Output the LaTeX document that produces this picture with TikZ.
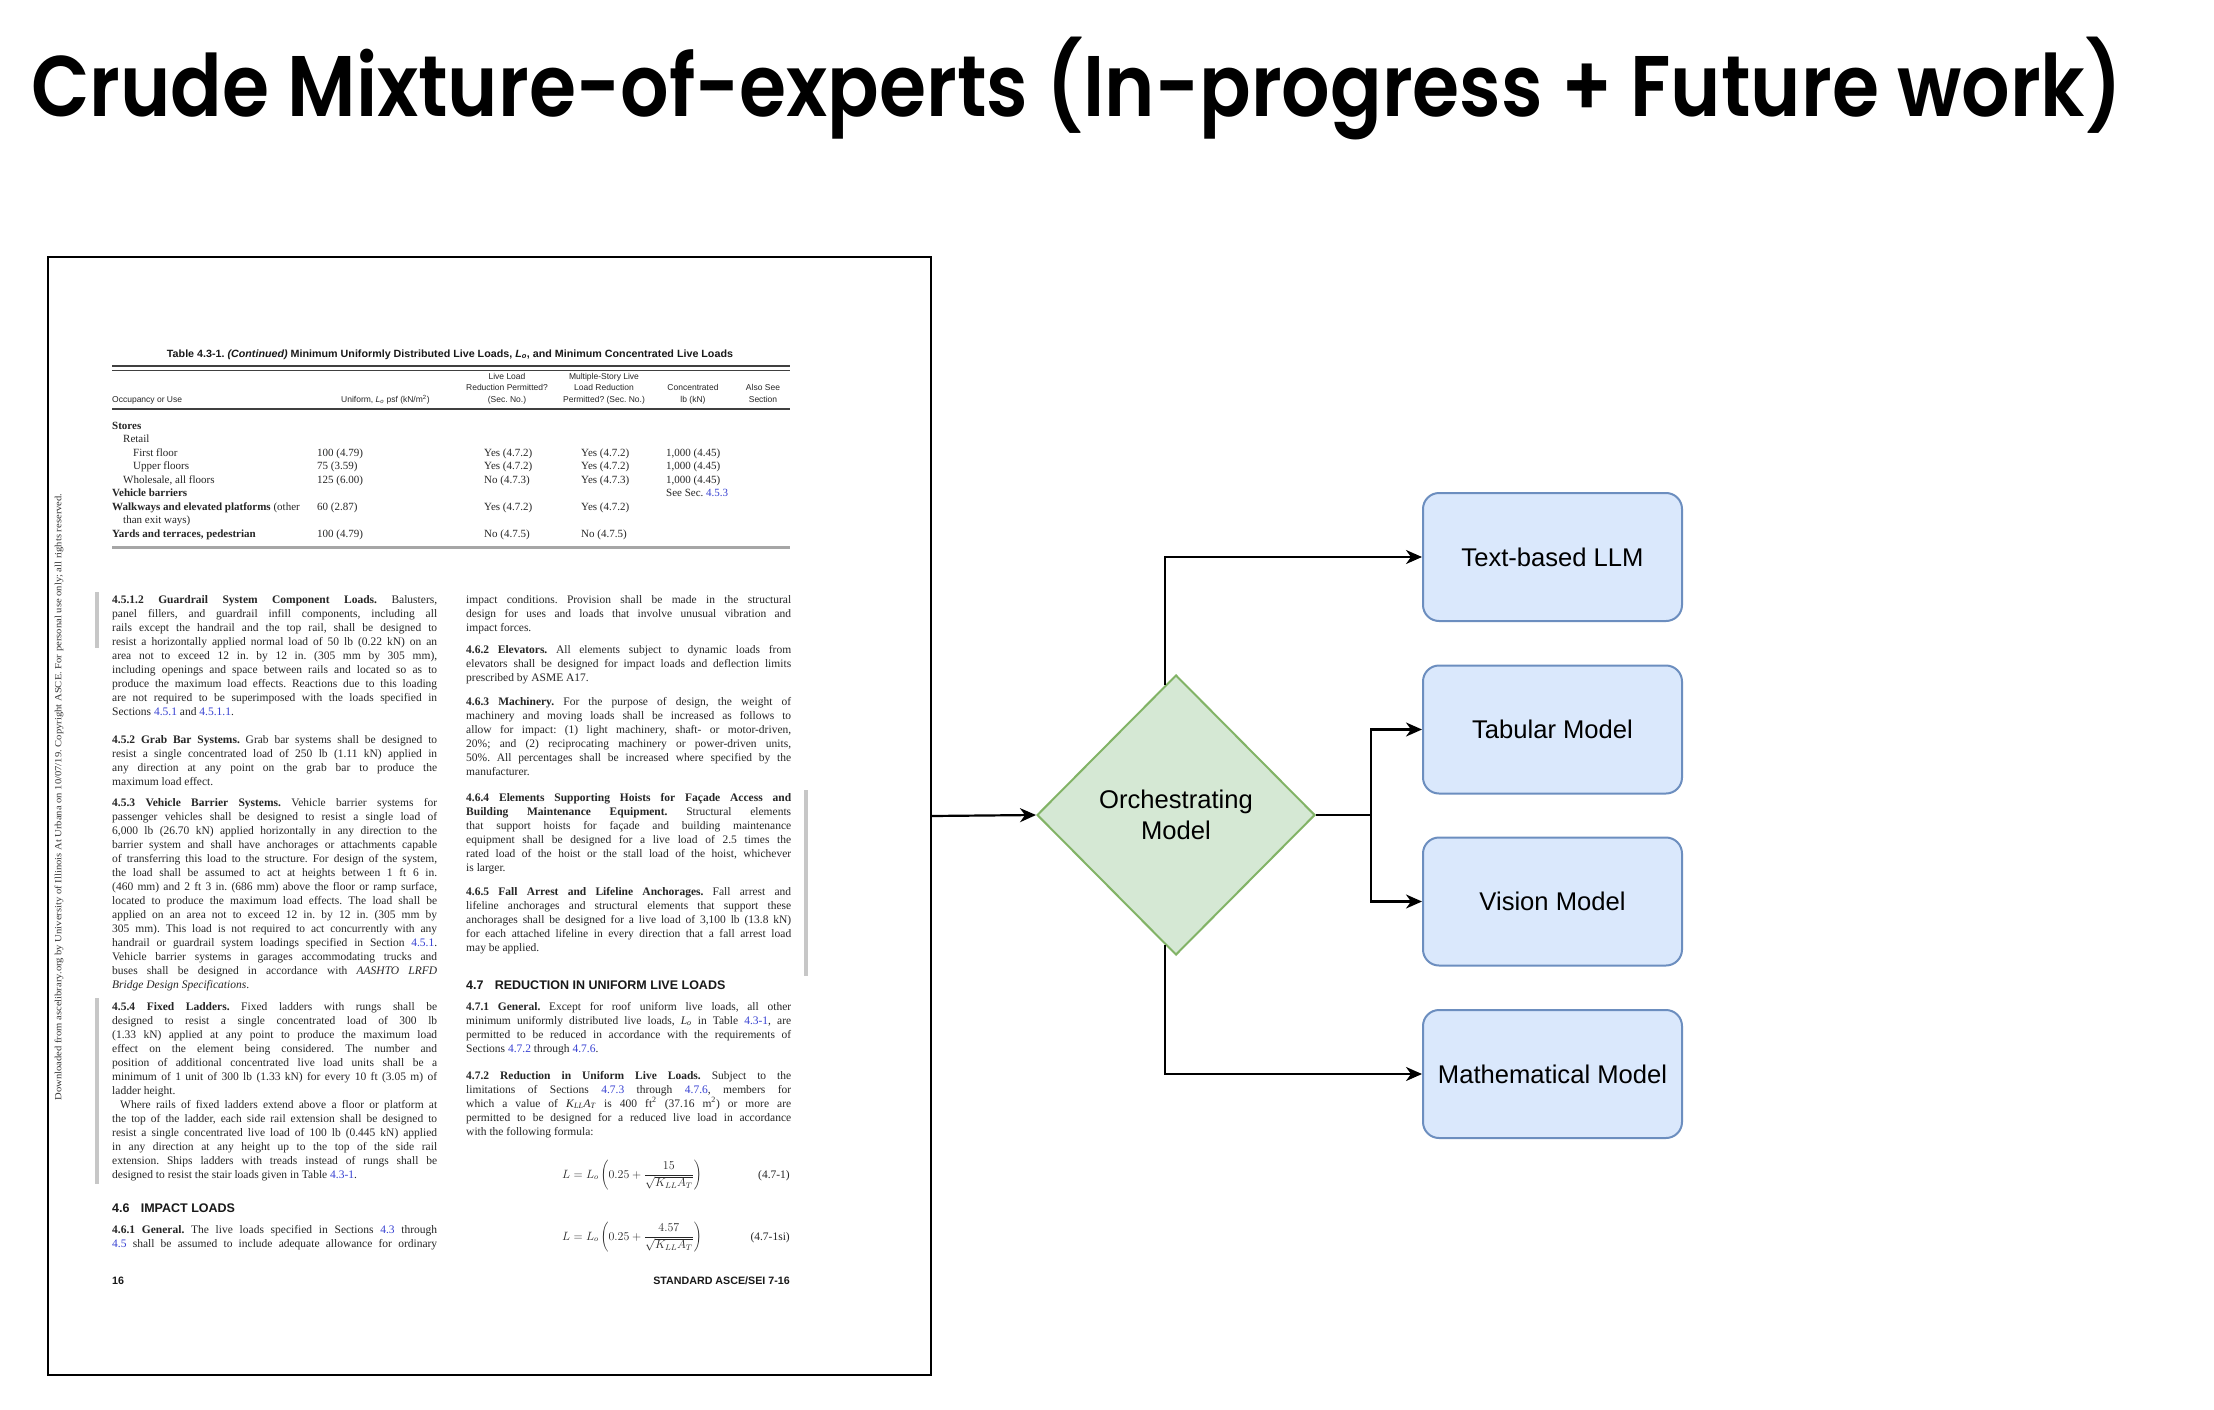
\documentclass[tikz,border=0pt]{standalone}
\usepackage{fontspec}
\usepackage{graphicx}
\usetikzlibrary{shapes.geometric,arrows.meta,calc}
\setmainfont{Liberation Serif}
\newfontfamily\sansf{Liberation Sans}
\newfontfamily\titlef{Poppins}[BoldFont={Poppins SemiBold}]
\definecolor{lkblue}{RGB}{55,65,210}
\definecolor{bfill}{HTML}{DAE8FC}
\definecolor{bline}{HTML}{6C8EBF}
\definecolor{gfill}{HTML}{D5E8D4}
\definecolor{gline}{HTML}{82B366}
\newlength\colw \setlength\colw{325pt}
\newcommand\jline[1]{\hbox to\colw{#1}}
\newcommand\eline[1]{\hbox{#1}}
\newcommand\rline[1]{\hbox{#1}}
\newcommand\lk[1]{\textcolor{lkblue}{#1}}
\newcommand\myLo{\textit{L}\textsubscript{\textit{o}}}
\newcommand\myKA{\textit{K}\textsubscript{\textit{LL}}\textit{A}\textsubscript{\textit{T}}}
\tikzset{
 bodytxt/.style={font=\frenchspacing\fontsize{11.5}{14.05}\selectfont, text=black!85, inner sep=0pt, anchor=base west},
 tbltxt/.style={font=\frenchspacing\fontsize{11}{13.5}\selectfont, text=black!85, inner sep=0pt, anchor=base west},
 hdrtxt/.style={font=\sansf\fontsize{8.5}{11.3}\selectfont, text=black!85, inner sep=0pt, anchor=base},
 headtxt/.style={font=\sansf\bfseries\fontsize{12.5}{15}\selectfont, text=black!90, inner sep=0pt, anchor=base west},
 foottxt/.style={font=\sansf\bfseries\fontsize{10.7}{13}\selectfont, text=black!90, inner sep=0pt},
 chbar/.style={draw=black!22, line width=3.5pt},
 model/.style={draw=bline, fill=bfill, line width=2pt, rounded corners=16pt, minimum width=259pt, minimum height=128pt, font=\sansf\fontsize{25.6}{30.7}\selectfont, text=black},
 orch/.style={diamond, aspect=1, draw=gline, fill=gfill, line width=2pt, minimum width=278pt, minimum height=280pt, inner sep=0pt, align=center, font=\sansf\fontsize{25.6}{31}\selectfont, text=black},
 conn/.style={line width=2.2pt, -{Stealth[length=16pt,width=14pt,inset=5pt]}},
}
\begin{document}
\frenchspacing
\begin{tikzpicture}[x=1pt,y=-1pt]
\fill[white] (0,0) rectangle (2214,1410);
\useasboundingbox (0,0) rectangle (2214,1410);

% title
\node[anchor=base west, inner sep=0pt] (title) at (31,117) {\resizebox{2091pt}{\height}{\titlef\bfseries\fontsize{86}{100}\selectfont Crude Mixture-of-experts (In-progress + Future work)}};

% page
\node[draw=black, line width=2pt, minimum width=883pt, minimum height=1118pt, inner sep=0pt, anchor=north west] (page) at (47,256) {};

\node[rotate=90, inner sep=0pt, text=black!80] (side) at (59,797) {\resizebox{607pt}{\height}{\fontsize{9.5}{11}\selectfont Downloaded from ascelibrary.org by University of Illinois At Urbana on 10/07/19. Copyright ASCE. For personal use only; all rights reserved.}};

% table
\node[anchor=base, inner sep=0pt, text=black!90] (ttitle) at (450,357) {\resizebox{566pt}{\height}{\sansf\bfseries\fontsize{10.5}{12}\selectfont Table 4.3-1. \textit{(Continued)} Minimum Uniformly Distributed Live Loads, \myLo, and Minimum Concentrated Live Loads}};
\draw[black!75, line width=2pt] (112,366) -- (790,366);
\draw[black!75, line width=1pt] (112,370.5) -- (790,370.5);
\draw[black!75, line width=1.2pt] (112,409) -- (790,409);
\draw[black!35, line width=3pt] (112,547) -- (790,547);

\node[hdrtxt, anchor=base west] (hocc) at (112,402) {Occupancy or Use};
\node[hdrtxt, anchor=base west] (huni) at (341,402) {Uniform, \myLo{} psf (kN/m\textsuperscript{2})};
\node[hdrtxt] (hlive) at (507,379.5) {\begin{tabular}[t]{@{}c@{}}Live Load\\Reduction Permitted?\\(Sec. No.)\end{tabular}};
\node[hdrtxt] (hmult) at (604,379.5) {\begin{tabular}[t]{@{}c@{}}Multiple-Story Live\\Load Reduction\\Permitted? (Sec. No.)\end{tabular}};
\node[hdrtxt] (hconc) at (693,390.8) {\begin{tabular}[t]{@{}c@{}}Concentrated\\lb (kN)\end{tabular}};
\node[hdrtxt] (hsee) at (763,390.8) {\begin{tabular}[t]{@{}c@{}}Also See\\Section\end{tabular}};

\node[tbltxt] (tc1) at (112,429) {\vtop{%
\rline{\textbf{Stores}}
\rline{\hspace{11pt}Retail}
\rline{\hspace{21pt}First floor}
\rline{\hspace{21pt}Upper floors}
\rline{\hspace{11pt}Wholesale, all floors}
\rline{\textbf{Vehicle barriers}}
\rline{\textbf{Walkways and elevated platforms} (other}
\rline{\hspace{11pt}than exit ways)}
\rline{\textbf{Yards and terraces, pedestrian}}}};
\node[tbltxt] (tc2) at (317,429) {\vtop{%
\rline{}\rline{}
\rline{100 (4.79)}
\rline{75 (3.59)}
\rline{125 (6.00)}
\rline{}
\rline{60 (2.87)}
\rline{}
\rline{100 (4.79)}}};
\node[tbltxt] (tc3) at (484,429) {\vtop{%
\rline{}\rline{}
\rline{Yes (4.7.2)}
\rline{Yes (4.7.2)}
\rline{No (4.7.3)}
\rline{}
\rline{Yes (4.7.2)}
\rline{}
\rline{No (4.7.5)}}};
\node[tbltxt] (tc4) at (581,429) {\vtop{%
\rline{}\rline{}
\rline{Yes (4.7.2)}
\rline{Yes (4.7.2)}
\rline{Yes (4.7.3)}
\rline{}
\rline{Yes (4.7.2)}
\rline{}
\rline{No (4.7.5)}}};
\node[tbltxt] (tc5) at (666,429) {\vtop{%
\rline{}\rline{}
\rline{1,000 (4.45)}
\rline{1,000 (4.45)}
\rline{1,000 (4.45)}
\rline{See Sec. \lk{4.5.3}}}};

% change bars
\draw[chbar] (97,592) -- (97,648);
\draw[chbar] (97,998) -- (97,1184);
\draw[chbar] (806,790) -- (806,976);

% left column
\node[bodytxt] (p1) at (112,603) {\vtop{%
\jline{\textbf{4.5.1.2 Guardrail System Component Loads.} Balusters,}
\jline{panel fillers, and guardrail infill components, including all}
\jline{rails except the handrail and the top rail, shall be designed to}
\jline{resist a horizontally applied normal load of 50 lb (0.22 kN) on an}
\jline{area not to exceed 12 in. by 12 in. (305 mm by 305 mm),}
\jline{including openings and space between rails and located so as to}
\jline{produce the maximum load effects. Reactions due to this loading}
\jline{are not required to be superimposed with the loads specified in}
\eline{Sections \lk{4.5.1} and \lk{4.5.1.1}.}}};
\node[bodytxt] (p2) at (112,743) {\vtop{%
\jline{\textbf{4.5.2 Grab Bar Systems.} Grab bar systems shall be designed to}
\jline{resist a single concentrated load of 250 lb (1.11 kN) applied in}
\jline{any direction at any point on the grab bar to produce the}
\eline{maximum load effect.}}};
\node[bodytxt] (p3) at (112,806) {\vtop{%
\jline{\textbf{4.5.3 Vehicle Barrier Systems.} Vehicle barrier systems for}
\jline{passenger vehicles shall be designed to resist a single load of}
\jline{6,000 lb (26.70 kN) applied horizontally in any direction to the}
\jline{barrier system and shall have anchorages or attachments capable}
\jline{of transferring this load to the structure. For design of the system,}
\jline{the load shall be assumed to act at heights between 1 ft 6 in.}
\jline{(460 mm) and 2 ft 3 in. (686 mm) above the floor or ramp surface,}
\jline{located to produce the maximum load effects. The load shall be}
\jline{applied on an area not to exceed 12 in. by 12 in. (305 mm by}
\jline{305 mm). This load is not required to act concurrently with any}
\jline{handrail or guardrail system loadings specified in Section \lk{4.5.1}.}
\jline{Vehicle barrier systems in garages accommodating trucks and}
\jline{buses shall be designed in accordance with \textit{AASHTO LRFD}}
\eline{\textit{Bridge Design Specifications}.}}};
\node[bodytxt] (p4) at (112,1010) {\vtop{%
\jline{\textbf{4.5.4 Fixed Ladders.} Fixed ladders with rungs shall be}
\jline{designed to resist a single concentrated load of 300 lb}
\jline{(1.33 kN) applied at any point to produce the maximum load}
\jline{effect on the element being considered. The number and}
\jline{position of additional concentrated live load units shall be a}
\jline{minimum of 1 unit of 300 lb (1.33 kN) for every 10 ft (3.05 m) of}
\eline{ladder height.}
\jline{\hspace{8pt}Where rails of fixed ladders extend above a floor or platform at}
\jline{the top of the ladder, each side rail extension shall be designed to}
\jline{resist a single concentrated live load of 100 lb (0.445 kN) applied}
\jline{in any direction at any height up to the top of the side rail}
\jline{extension. Ships ladders with treads instead of rungs shall be}
\eline{designed to resist the stair loads given in Table \lk{4.3-1}.}}};
\node[headtxt] (h46) at (112,1212) {4.6\hspace{0.9em}IMPACT LOADS};
\node[bodytxt] (p5) at (112,1233) {\vtop{%
\jline{\textbf{4.6.1 General.} The live loads specified in Sections \lk{4.3} through}
\jline{\lk{4.5} shall be assumed to include adequate allowance for ordinary}}};

% right column
\node[bodytxt] (r1) at (466,603) {\vtop{%
\jline{impact conditions. Provision shall be made in the structural}
\jline{design for uses and loads that involve unusual vibration and}
\eline{impact forces.}}};
\node[bodytxt] (r2) at (466,653) {\vtop{%
\jline{\textbf{4.6.2 Elevators.} All elements subject to dynamic loads from}
\jline{elevators shall be designed for impact loads and deflection limits}
\eline{prescribed by ASME A17.}}};
\node[bodytxt] (r3) at (466,705) {\vtop{%
\jline{\textbf{4.6.3 Machinery.} For the purpose of design, the weight of}
\jline{machinery and moving loads shall be increased as follows to}
\jline{allow for impact: (1) light machinery, shaft- or motor-driven,}
\jline{20\%; and (2) reciprocating machinery or power-driven units,}
\jline{50\%. All percentages shall be increased where specified by the}
\eline{manufacturer.}}};
\node[bodytxt] (r4) at (466,801) {\vtop{%
\jline{\textbf{4.6.4 Elements Supporting Hoists for Façade Access and}}
\jline{\textbf{Building Maintenance Equipment.} Structural elements}
\jline{that support hoists for façade and building maintenance}
\jline{equipment shall be designed for a live load of 2.5 times the}
\jline{rated load of the hoist or the stall load of the hoist, whichever}
\eline{is larger.}}};
\node[bodytxt] (r5) at (466,895) {\vtop{%
\jline{\textbf{4.6.5 Fall Arrest and Lifeline Anchorages.} Fall arrest and}
\jline{lifeline anchorages and structural elements that support these}
\jline{anchorages shall be designed for a live load of 3,100 lb (13.8 kN)}
\jline{for each attached lifeline in every direction that a fall arrest load}
\eline{may be applied.}}};
\node[headtxt] (h47) at (466,989) {4.7\hspace{0.9em}REDUCTION IN UNIFORM LIVE LOADS};
\node[bodytxt] (r6) at (466,1010) {\vtop{%
\jline{\textbf{4.7.1 General.} Except for roof uniform live loads, all other}
\jline{minimum uniformly distributed live loads, \myLo{} in Table \lk{4.3-1}, are}
\jline{permitted to be reduced in accordance with the requirements of}
\eline{Sections \lk{4.7.2} through \lk{4.7.6}.}}};
\node[bodytxt] (r7) at (466,1079) {\vtop{%
\jline{\textbf{4.7.2 Reduction in Uniform Live Loads.} Subject to the}
\jline{limitations of Sections \lk{4.7.3} through \lk{4.7.6}, members for}
\jline{which a value of \myKA{} is 400 ft\textsuperscript{2} (37.16 m\textsuperscript{2}) or more are}
\jline{permitted to be designed for a reduced live load in accordance}
\eline{with the following formula:}}};
\node[bodytxt] (eq1) at (562,1178) {$\displaystyle L=L_o\left(0.25+\frac{15}{\sqrt{K_{LL}A_T}}\right)$};
\node[bodytxt, anchor=base east] (eqn1) at (790,1178) {(4.7-1)};
\node[bodytxt] (eq2) at (562,1240) {$\displaystyle L=L_o\left(0.25+\frac{4.57}{\sqrt{K_{LL}A_T}}\right)$};
\node[bodytxt, anchor=base east] (eqn2) at (790,1240) {(4.7-1si)};

\node[foottxt, anchor=base west] (pgno) at (112,1284) {16};
\node[foottxt, anchor=base east] (std) at (790,1284) {STANDARD ASCE/SEI 7-16};

% diagram
\node[orch] (orch) at (1176,815) {Orchestrating\\Model};
\node[model] (llm) at (1552.5,557) {Text-based LLM};
\node[model] (tab) at (1552.5,729.5) {Tabular Model};
\node[model] (vis) at (1552.5,901.5) {Vision Model};
\node[model] (mathm) at (1552.5,1074) {Mathematical Model};

\draw[conn] (page.east) -- (orch.west);
\draw[conn] ($(orch.north)!0.08!(orch.west)$) |- (llm.west);
\draw[conn] ($(orch.south)!0.08!(orch.west)$) |- (mathm.west);
\draw[conn] (orch.east) -- ++(55,0) |- (tab.west);
\draw[conn] (orch.east) -- ++(55,0) |- (vis.west);
\end{tikzpicture}
\end{document}
